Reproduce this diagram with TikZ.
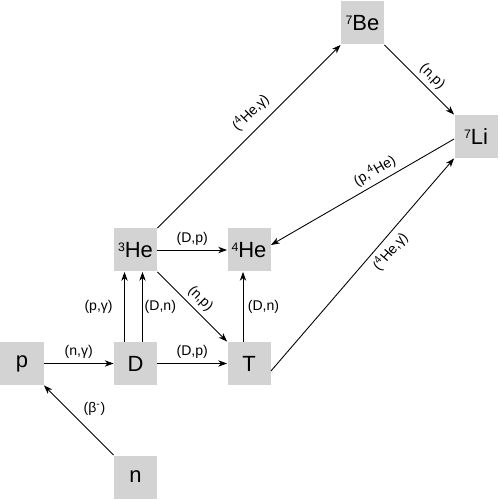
\documentclass[tikz,border=0pt]{standalone}
\usepackage{fontspec}
\setmainfont{Liberation Sans}
\usetikzlibrary{arrows.meta}
\usetikzlibrary{positioning}
\definecolor{boxgray}{RGB}{211,211,211}
\newcommand{\upnum}[1]{\raisebox{3.6pt}{\fontsize{7}{7}\selectfont #1}}

\begin{document}
\begin{tikzpicture}[node distance=2.27cm,
  every node/.style={fill=boxgray,minimum size=0.86cm,inner sep=0pt,font=\fontsize{12.5}{14}\selectfont},
  lbl/.style={fill=none,minimum size=0pt,inner sep=2.5pt,font=\fontsize{8}{9}\selectfont},
  >={Stealth[length=5pt,width=3.6pt,inset=1.5pt]},line width=0.5pt]
\useasboundingbox (-0.44,-2.73) rectangle (9.56,7.27);
\node (p) at (0,0) {p};
\node[right of =p](D){D};
\node[right of =D](T){T};
\node[below of =D](n){n};
\node[above of =D](He3){\upnum{3}He};
\node[right of =He3](He4){\upnum{4}He};
\node (Be7) at (6.81,6.81) {\upnum{7}Be};
\node (Li7) at (9.08,4.54) {\upnum{7}Li};

\draw[->] (n) -- node[lbl,above right]{(β\textsuperscript{-})} (p);
\draw[->] (p) -- node[lbl,above]{(n,γ)} (D);
\draw[->] (D) -- node[lbl,above]{(D,p)} (T);
\draw[->] ([xshift=-0.22cm]D.north) -- node[lbl,left=4pt]{(p,γ)} ([xshift=-0.22cm]He3.south);
\draw[->] ([xshift=0.14cm]D.north) -- node[lbl,right,inner sep=1pt]{(D,n)} ([xshift=0.14cm]He3.south);
\draw[->] ([xshift=-0.12cm]T.north) -- node[lbl,right]{(D,n)} ([xshift=-0.12cm]He4.south);
\draw[->] (He3) -- node[lbl,above]{(D,p)} (He4);
\draw[->] (He3) -- node[lbl,sloped,above]{(n,p)} (T);
\draw[->] (He3) -- node[lbl,sloped,above=2pt,pos=0.57]{(\textsuperscript{4}He,γ)} (Be7);
\draw[->] (Be7) -- node[lbl,sloped,above,pos=0.57]{(n,p)} (Li7);
\draw[<-] ([yshift=0.1cm]He4.east) -- node[lbl,sloped,above,pos=0.6]{(p,\textsuperscript{4}He)} ([yshift=-0.05cm]Li7.west);
\draw[->] ([yshift=-0.15cm]T.east) -- node[lbl,sloped,below,pos=0.6]{(\textsuperscript{4}He,γ)} (Li7.south west);
\end{tikzpicture}
\end{document}
